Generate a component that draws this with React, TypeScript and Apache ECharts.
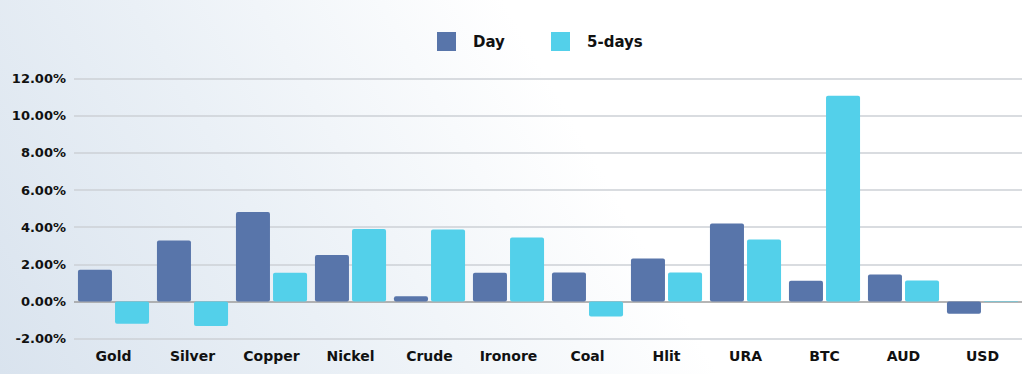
import React, { useEffect, useRef } from "react";
import * as echarts from "echarts";

const categories = ["Gold", "Silver", "Copper", "Nickel", "Crude", "Ironore", "Coal", "Hlit", "URA", "BTC", "AUD", "USD"];
const dayValues = [1.71, 3.29, 4.82, 2.5, 0.29, 1.55, 1.56, 2.32, 4.2, 1.12, 1.46, -0.66];
const fiveDayValues = [-1.2, -1.31, 1.55, 3.9, 3.87, 3.45, -0.81, 1.56, 3.34, 11.07, 1.13, 0.03];
const yMin = -2;
const yMax = 12;
const yInterval = 2;

const FONT = "'DejaVu Sans', 'Noto Sans', sans-serif";
const DAY_COLOR = "#5875aa";
const FIVE_COLOR = "#53d0ea";

export default function App() {
  const ref = useRef<HTMLDivElement>(null);
  useEffect(() => {
    if (!ref.current) return;
    const chart = echarts.init(ref.current, undefined, { renderer: "svg" });
    const lineColors = ["#cdd1d6", "#9c9c9c", "#cdd1d6", "#cdd1d6", "#cdd1d6", "#cdd1d6", "#cdd1d6", "#cdd1d6"];
    const legendText = { fontFamily: FONT, fontWeight: 700, fontSize: 15, color: "#111", padding: [0, 0, 0, 12] };
    chart.setOption({
      animation: false,
      backgroundColor: "transparent",
      legend: [
        {
          data: ["Day"],
          left: 437,
          top: 32,
          padding: 0,
          itemWidth: 19,
          itemHeight: 19,
          icon: "rect",
          textStyle: legendText,
        },
        {
          data: ["5-days"],
          left: 551,
          top: 32,
          padding: 0,
          itemWidth: 19,
          itemHeight: 19,
          icon: "rect",
          textStyle: legendText,
        },
      ],
      grid: { left: 74, right: 2, top: 78.5, bottom: 35.3, containLabel: false },
      xAxis: {
        type: "category",
        data: categories,
        axisLine: { show: false, onZero: false },
        axisTick: { show: false },
        axisLabel: { fontFamily: FONT, fontWeight: 700, fontSize: 14, color: "#111", margin: 10 },
      },
      yAxis: {
        type: "value",
        min: yMin,
        max: yMax,
        interval: yInterval,
        axisLine: { show: false },
        axisTick: { show: false },
        axisLabel: {
          fontFamily: FONT,
          fontWeight: 700,
          fontSize: 13,
          color: "#111",
          margin: 8,
          formatter: (v: number) => v.toFixed(2) + "%",
        },
        splitLine: { lineStyle: { color: lineColors, width: 1.5 } },
      },
      series: [
        {
          name: "Day",
          type: "bar",
          data: dayValues,
          barGap: "9%",
          barCategoryGap: "10%",
          itemStyle: { color: DAY_COLOR, borderRadius: 2 },
        },
        {
          name: "5-days",
          type: "bar",
          data: fiveDayValues,
          barGap: "9%",
          barCategoryGap: "10%",
          itemStyle: { color: FIVE_COLOR, borderRadius: 2 },
        },
      ],
    });
    return () => chart.dispose();
  }, []);
  return (
    <div
      style={{
        position: "fixed",
        left: 0,
        top: 0,
        width: 1024,
        height: 374,
        background: "linear-gradient(60deg, #d9e3ee 0%, #eaf0f6 28%, #ffffff 58%, #ffffff 100%)",
      }}
    >
      <div ref={ref} style={{ width: 1024, height: 374 }} />
    </div>
  );
}
